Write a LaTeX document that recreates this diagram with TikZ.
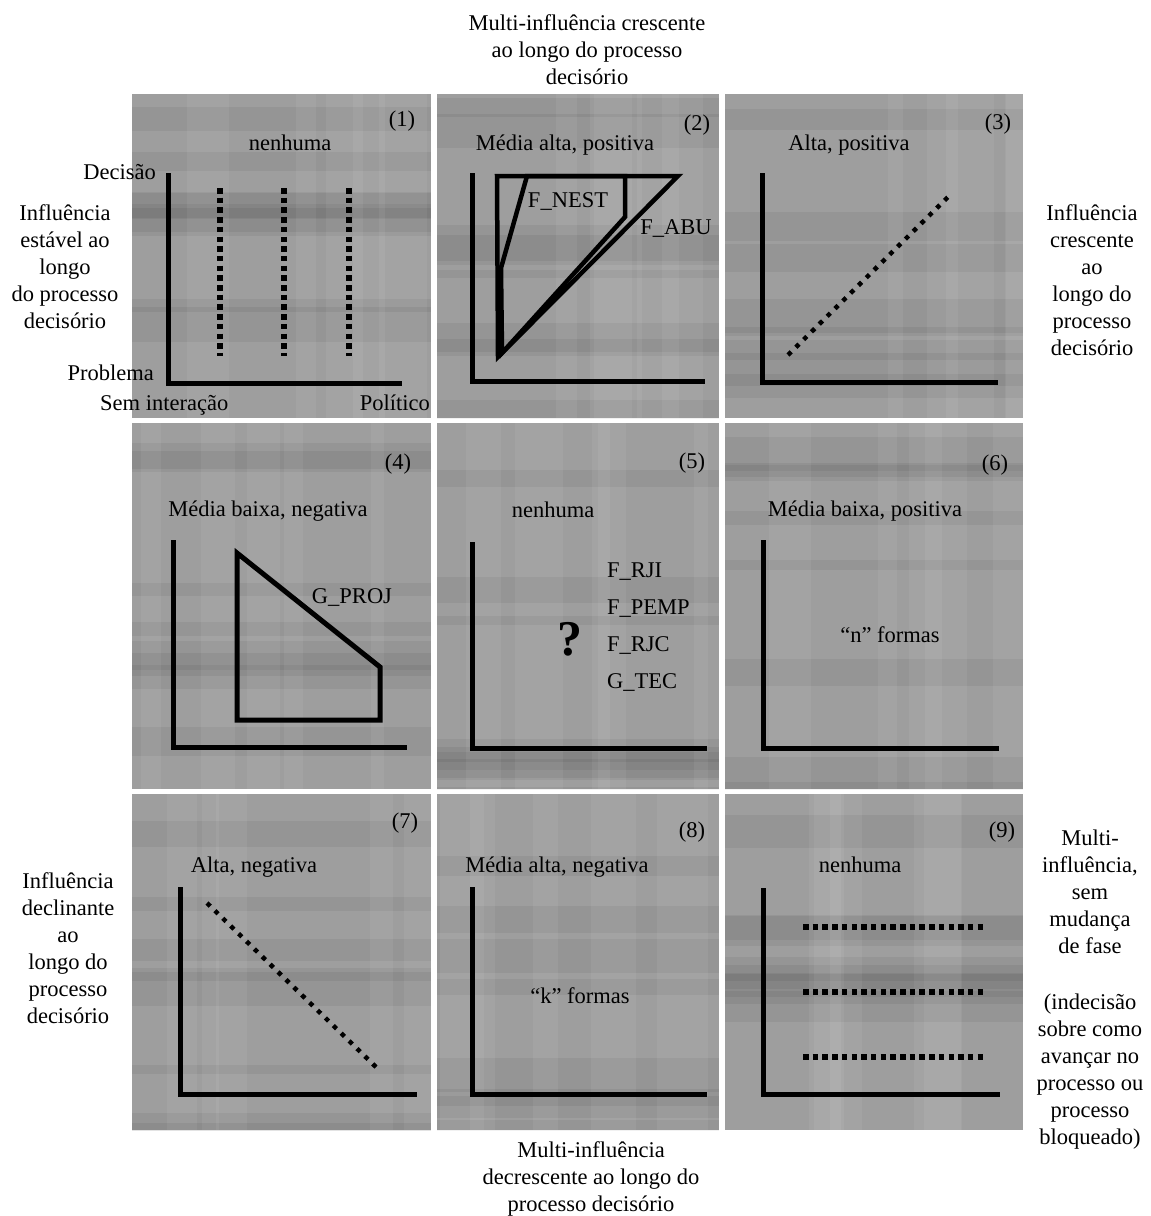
\documentclass[tikz,border=0pt]{standalone}
\usepackage{fontspec}
\setmainfont{Liberation Serif}
\begin{document}
\begin{tikzpicture}[x=1pt,y=-1pt,
  txt/.style={font=\fontsize{22.5}{27}\selectfont, inner sep=0pt, align=center},
  axisline/.style={line width=5pt, line cap=butt, line join=miter},
  sqdots/.style={line width=5.5pt, dash pattern=on 5.5pt off 4.2pt},
  diadots/.style={line width=4.5pt, dash pattern=on 4.5pt off 6.5pt},
  figshape/.style={line width=5pt, line join=miter},
  panelbg/.style={fill=black!38}
]
\useasboundingbox (0,0) rectangle (1151,1216);
\fill[white] (0,0) rectangle (1151,1216);

% panels with streaky texture
\foreach \xa/\ya/\xb/\yb/\sd in {132/94/431/418/11, 437/94/719/418/23, 725/94/1023/418/37,
                                 132/423/431/789/41, 437/423/719/789/53, 725/423/1023/789/67,
                                 132/794/431/1130/71, 437/794/719/1130/83, 725/794/1023/1130/97}{
  \fill[panelbg] (\xa,\ya) rectangle (\xb,\yb);
  \begin{scope}
    \clip (\xa,\ya) rectangle (\xb,\yb);
    \pgfmathsetseed{\sd}
    \foreach \i in {1,...,8}{
      \pgfmathsetmacro\yy{\ya+rnd*(\yb-\ya)}
      \pgfmathsetmacro\hh{8+rnd*28}
      \fill[black,opacity=0.055] (\xa,\yy) rectangle (\xb,\yy+\hh);
    }
    \foreach \i in {1,...,5}{
      \pgfmathsetmacro\xx{\xa+rnd*(\xb-\xa)}
      \pgfmathsetmacro\ww{12+rnd*40}
      \fill[white,opacity=0.06] (\xx,\ya) rectangle (\xx+\ww,\yb);
    }
  \end{scope}
}

% outer titles (base anchor = baseline of the last line)
\node[txt, anchor=base] (toptitle) at (587,84) {Multi-influência crescente\\ao longo do processo\\decisório};
\node[txt, anchor=base] (bottitle) at (591,1211) {Multi-influência\\decrescente ao longo do\\processo decisório};
\node[txt, anchor=base] (lefttop) at (65,328) {Influência\\estável ao\\longo\\do processo\\decisório};
\node[txt, anchor=base] (righttop) at (1092,355) {Influência\\crescente\\ao\\longo do\\processo\\decisório};
\node[txt, anchor=base] (leftbot) at (68,1023) {Influência\\declinante\\ao\\longo do\\processo\\decisório};
\node[txt, anchor=base] (rightbot) at (1090,1144) {Multi-\\influência,\\sem\\mudança\\de fase\\[29pt](indecisão\\sobre como\\avançar no\\processo ou\\processo\\bloqueado)};

% ---------- panel 1
\draw[axisline] (168,173) -- (168,383) -- (402,383);
\draw[sqdots] (220,188) -- (220,356);
\draw[sqdots] (284,188) -- (284,356);
\draw[sqdots] (349,188) -- (349,356);
\node[txt, anchor=base] (n1) at (402,126) {(1)};
\node[txt, anchor=base] (l1) at (290,150) {nenhuma};
\node[txt, anchor=base east] (decisao) at (156,179) {Decisão};
\node[txt, anchor=base east] (problema) at (154,380) {Problema};
\node[txt, anchor=base west] (seminter) at (100,410) {Sem interação};
\node[txt, anchor=base east] (politico) at (430,410) {Político};

% ---------- panel 2
\draw[axisline] (472,173) -- (472,381) -- (705,381);
\draw[line width=4.5pt, line join=miter] (497,176) -- (678,176) -- (498,357) -- cycle;
\draw[line width=4.5pt, line join=miter] (527,176) -- (625,176) -- (625,217) -- (502,353) -- (501,268) -- cycle;
\node[txt, anchor=base] (n2) at (697,130) {(2)};
\node[txt, anchor=base] (l2) at (565,150) {Média alta, positiva};
\node[txt, anchor=base] (fnest) at (568,207) {F\_NEST};
\node[txt, anchor=base] (fabu) at (676,234) {F\_ABU};

% ---------- panel 3
\draw[axisline] (762,173) -- (762,382) -- (998,382);
\draw[diadots] (788,355) -- (950,195);
\node[txt, anchor=base] (n3) at (998,129) {(3)};
\node[txt, anchor=base] (l3) at (849,150) {Alta, positiva};

% ---------- panel 4
\draw[axisline] (173,540) -- (173,747) -- (407,747);
\draw[figshape] (237,553) -- (380,667) -- (380,720) -- (237,720) -- cycle;
\node[txt, anchor=base] (n4) at (398,469) {(4)};
\node[txt, anchor=base] (l4) at (268,516) {Média baixa, negativa};
\node[txt, anchor=base] (gproj) at (352,603) {G\_PROJ};

% ---------- panel 5
\draw[axisline] (472,542) -- (472,748) -- (707,748);
\node[txt, anchor=base] (n5) at (692,468) {(5)};
\node[txt, anchor=base] (l5) at (553,517) {nenhuma};
\node[inner sep=0pt, anchor=base, font=\fontsize{50}{54}\selectfont\bfseries] (quest) at (570,655) {?};
\node[txt, anchor=base west] (frji) at (607,577) {F\_RJI};
\node[txt, anchor=base west] (fpemp) at (607,614) {F\_PEMP};
\node[txt, anchor=base west] (frjc) at (607,651) {F\_RJC};
\node[txt, anchor=base west] (gtec) at (607,688) {G\_TEC};

% ---------- panel 6
\draw[axisline] (763,540) -- (763,748) -- (999,748);
\node[txt, anchor=base] (n6) at (995,470) {(6)};
\node[txt, anchor=base] (l6) at (865,516) {Média baixa, positiva};
\node[txt, anchor=base] (nformas) at (890,642) {“n” formas};

% ---------- panel 7
\draw[axisline] (180,887) -- (180,1094) -- (417,1094);
\draw[diadots] (207,903) -- (377,1068);
\node[txt, anchor=base] (n7) at (405,828) {(7)};
\node[txt, anchor=base] (l7) at (254,872) {Alta, negativa};

% ---------- panel 8
\draw[axisline] (472,887) -- (472,1094) -- (707,1094);
\node[txt, anchor=base] (n8) at (692,837) {(8)};
\node[txt, anchor=base] (l8) at (557,872) {Média alta, negativa};
\node[txt, anchor=base] (kformas) at (580,1003) {“k” formas};

% ---------- panel 9
\draw[axisline] (763,888) -- (763,1094) -- (1000,1094);
\draw[sqdots] (803,927) -- (984,927);
\draw[sqdots] (803,992) -- (984,992);
\draw[sqdots] (803,1057) -- (984,1057);
\node[txt, anchor=base] (n9) at (1002,837) {(9)};
\node[txt, anchor=base] (l9) at (860,872) {nenhuma};
\end{tikzpicture}
\end{document}
